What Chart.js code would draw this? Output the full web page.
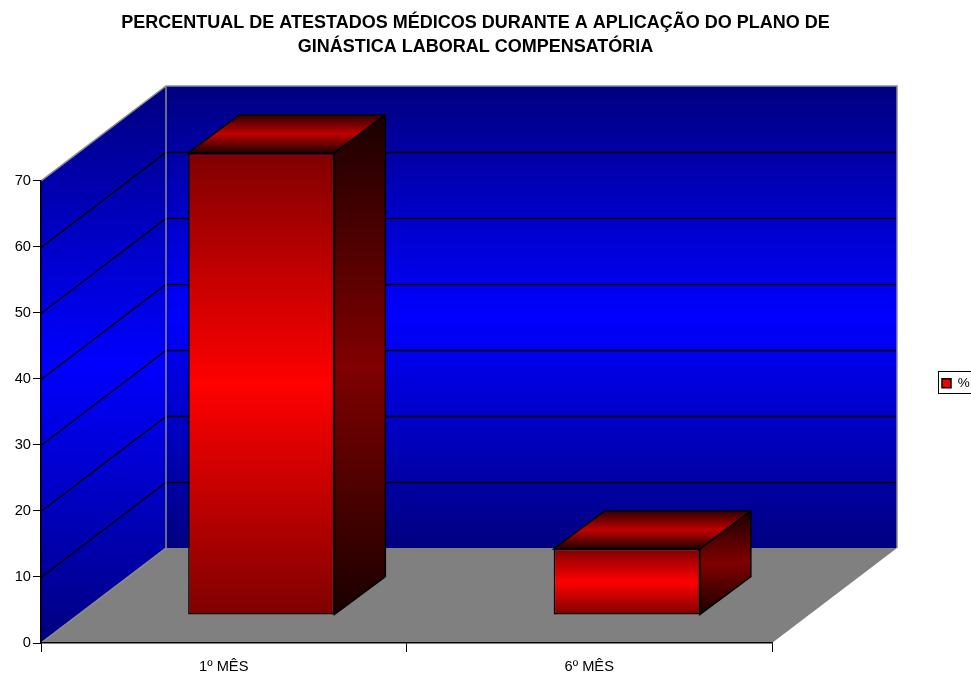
<!DOCTYPE html>
<html>
<head>
<meta charset="utf-8">
<title>Atestados médicos</title>
<script src="https://cdn.jsdelivr.net/npm/chart.js@4/dist/chart.umd.min.js"></script>
<style>
  html, body { margin: 0; padding: 0; background: #fff; overflow: hidden; }
  #wrap { width: 971px; height: 677px; }
</style>
</head>
<body>
<div id="wrap"><canvas id="chart" width="971" height="677"></canvas></div>
<script>
// dados
const categories = ['1º MÊS', '6º MÊS'];
const seriesName = '%';
const values = [70, 10];
const yTicks = [0, 10, 20, 30, 40, 50, 60, 70];
const wallLines = [10, 20, 30, 40, 50, 60];
const titleLines = [
    'PERCENTUAL DE ATESTADOS MÉDICOS DURANTE A APLICAÇÃO DO PLANO DE',
    'GINÁSTICA LABORAL COMPENSATÓRIA'
];

// profundidade da perspectiva
const DEPTH_X = 125, DEPTH_Y = 95;
const BAR_OFF_X = 37.5, BAR_OFF_Y = 28;
const BAR_DX = 51, BAR_DY = 38;
const FONT = 'Liberation Sans, Arial, sans-serif';
// caixa da legenda
const LEGEND_BOX = { left: 938, top: 371, right: 975, bottom: 393 };

function threeStop(ctx, y0, y1, a, b, c) {
    const g = ctx.createLinearGradient(0, y0, 0, y1);
    g.addColorStop(0, a);
    g.addColorStop(0.5, b);
    g.addColorStop(1, c);
    return g;
}

function poly(ctx, pts) {
    ctx.beginPath();
    ctx.moveTo(pts[0][0], pts[0][1]);
    for (let i = 1; i < pts.length; i++) ctx.lineTo(pts[i][0], pts[i][1]);
    ctx.closePath();
}

const scene = {
    id: 'scene',
    afterLayout(chart) {
        // título e legenda ficam fora do centro no original
        chart.titleBlock.left = 0;
        chart.titleBlock.right = 951;
        const lg = chart.legend;
        lg.left = LEGEND_BOX.left;
        lg.right = LEGEND_BOX.right;
        lg.top = LEGEND_BOX.top + 1.5;
        lg.bottom = LEGEND_BOX.bottom;
    },
    beforeDraw(chart) {
        const { ctx, scales: { x, y } } = chart;
        const l = x.left, r = x.right, t = y.top, b = y.bottom;
        ctx.save();
        // parede do fundo
        poly(ctx, [[l + DEPTH_X, t - DEPTH_Y], [r + DEPTH_X, t - DEPTH_Y], [r + DEPTH_X, b - DEPTH_Y], [l + DEPTH_X, b - DEPTH_Y]]);
        ctx.fillStyle = threeStop(ctx, t - DEPTH_Y, b - DEPTH_Y, '#000080', '#0000ff', '#000080');
        ctx.fill();
        // parede lateral
        poly(ctx, [[l, t], [l + DEPTH_X, t - DEPTH_Y], [l + DEPTH_X, b - DEPTH_Y], [l, b]]);
        ctx.fillStyle = threeStop(ctx, t - DEPTH_Y, b, '#000080', '#0000ff', '#000080');
        ctx.fill();
        // piso
        poly(ctx, [[l, b], [r, b], [r + DEPTH_X, b - DEPTH_Y], [l + DEPTH_X, b - DEPTH_Y]]);
        ctx.fillStyle = '#808080';
        ctx.fill();
        // linhas de grade
        ctx.strokeStyle = '#000';
        ctx.lineWidth = 1.3;
        wallLines.forEach(v => {
            const py = Math.round(y.getPixelForValue(v)) + 0.5;
            ctx.beginPath();
            ctx.moveTo(l, py);
            ctx.lineTo(l + DEPTH_X, py - DEPTH_Y);
            ctx.lineTo(r + DEPTH_X, py - DEPTH_Y);
            ctx.stroke();
        });
        // contorno cinza
        ctx.strokeStyle = '#8c8c8c';
        ctx.lineWidth = 1.5;
        ctx.beginPath();
        ctx.moveTo(l, t);
        ctx.lineTo(l + DEPTH_X, t - DEPTH_Y);
        ctx.lineTo(r + DEPTH_X, t - DEPTH_Y);
        ctx.lineTo(r + DEPTH_X, b - DEPTH_Y);
        ctx.moveTo(l + DEPTH_X, t - DEPTH_Y);
        ctx.lineTo(l + DEPTH_X, b - DEPTH_Y);
        ctx.lineTo(l, b);
        ctx.stroke();
        ctx.restore();
    },
    beforeDatasetsDraw(chart) {
        const { ctx } = chart;
        const bars = chart.getDatasetMeta(0).data;
        ctx.save();
        bars.forEach(el => {
            const left = el.x - el.width / 2 + BAR_OFF_X;
            const right = el.x + el.width / 2 + BAR_OFF_X;
            const top = el.y - BAR_OFF_Y;
            const base = el.base - BAR_OFF_Y;
            const side = [[right, top], [right + BAR_DX, top - BAR_DY], [right + BAR_DX, base - BAR_DY], [right, base]];
            const lid = [[left, top], [left + BAR_DX, top - BAR_DY], [right + BAR_DX, top - BAR_DY], [right, top]];
            poly(ctx, side);
            ctx.fillStyle = threeStop(ctx, top - BAR_DY, base, '#1a0000', '#800000', '#1a0000');
            ctx.fill();
            poly(ctx, lid);
            ctx.fillStyle = threeStop(ctx, top - BAR_DY, top, '#300000', '#c00000', '#200000');
            ctx.fill();
            ctx.strokeStyle = '#000';
            ctx.lineWidth = 1.5;
            poly(ctx, side); ctx.stroke();
            poly(ctx, lid); ctx.stroke();
        });
        ctx.restore();
        // as barras da biblioteca são desenhadas no plano deslocado
        ctx.save();
        ctx.translate(BAR_OFF_X, -BAR_OFF_Y);
    },
    afterDatasetsDraw(chart) {
        chart.ctx.restore();
    },
    afterDraw(chart) {
        const { ctx } = chart;
        ctx.save();
        ctx.strokeStyle = '#000';
        ctx.lineWidth = 1;
        ctx.strokeRect(LEGEND_BOX.left + 0.5, LEGEND_BOX.top + 0.5, LEGEND_BOX.right - LEGEND_BOX.left, LEGEND_BOX.bottom - LEGEND_BOX.top);
        ctx.restore();
    }
};

new Chart(document.getElementById('chart').getContext('2d'), {
    type: 'bar',
    plugins: [scene],
    data: {
        labels: categories,
        datasets: [{
            label: seriesName,
            data: values,
            clip: false,
            categoryPercentage: 1,
            barPercentage: 0.4,
            borderColor: '#000',
            borderWidth: 1.5,
            borderSkipped: false,
            backgroundColor: function (c) {
                if (c.type !== 'data' || !c.parsed) return '#ff0000';
                const y = c.chart.scales.y;
                const y0 = y.getPixelForValue(c.parsed.y), y1 = y.getPixelForValue(0);
                if (!isFinite(y0) || !isFinite(y1)) return '#ff0000';
                return threeStop(c.chart.ctx, y0, y1, '#800000', '#ff0000', '#800000');
            }
        }]
    },
    options: {
        responsive: false,
        animation: false,
        layout: { padding: { left: 0, right: 199, top: 0, bottom: 0 } },
        plugins: {
            tooltip: { enabled: false },
            title: {
                display: true,
                text: titleLines,
                color: '#000',
                font: { family: FONT, size: 18, weight: 'bold', lineHeight: 1.33 },
                padding: { top: 11, bottom: 122 }
            },
            legend: {
                position: 'chartArea',
                align: 'start',
                labels: {
                    color: '#000',
                    font: { family: FONT, size: 13.5 },
                    boxWidth: 9,
                    boxHeight: 9,
                    padding: 4
                }
            }
        },
        scales: {
            x: {
                afterFit(s) { s.height = 34; },
                border: { color: '#000', width: 1.5 },
                grid: { drawOnChartArea: false, color: '#000', tickLength: 9, tickColor: '#000' },
                ticks: { color: '#000', padding: 6, maxRotation: 0, font: { family: FONT, size: 14.67 } }
            },
            y: {
                min: yTicks[0],
                max: yTicks[yTicks.length - 1],
                afterFit(s) { s.width = 41; },
                afterBuildTicks(s) { s.ticks = yTicks.map(v => ({ value: v })); },
                border: { color: '#000', width: 1.5 },
                grid: { drawOnChartArea: false, color: '#000', tickLength: 8, tickColor: '#000' },
                ticks: { color: '#000', padding: 2, font: { family: FONT, size: 14.67 } }
            }
        }
    }
});
</script>
</body>
</html>
